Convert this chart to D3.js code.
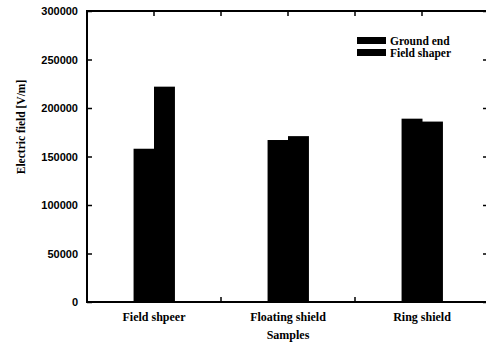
<!DOCTYPE html>
<html>
<head>
<meta charset="utf-8">
<script src="https://cdn.jsdelivr.net/npm/d3@7"></script>
<style>
  body { margin: 0; background: #fff; }
  svg { display: block; }
  .tick-label { font-family: "Liberation Sans", Arial, sans-serif; font-weight: bold; font-size: 11px; }
  .serif { font-family: "Liberation Serif", "Times New Roman", serif; font-weight: bold; }
</style>
</head>
<body>
<script>
// chart data
var categories = ['Field shpeer', 'Floating shield', 'Ring shield'];
var seriesNames = ['Ground end', 'Field shaper'];
var groundEnd = [158000, 167000, 189000];
var fieldShaper = [222000, 171000, 186000];
var yTicks = [0, 50000, 100000, 150000, 200000, 250000, 300000];

var W = 486, H = 345;
var margin = {left: 87, top: 11, right: 489, bottom: 302}; // plot edges in px

var svg = d3.select('body').append('svg')
    .attr('width', W)
    .attr('height', H);

// scales
var x = d3.scaleBand()
    .domain(categories)
    .range([margin.left, margin.right])
    .paddingInner(0.695)
    .paddingOuter(0.3475);

var xSub = d3.scaleBand()
    .domain(seriesNames)
    .range([0, x.bandwidth()]);

var y = d3.scaleLinear()
    .domain([0, 300000])
    .range([margin.bottom, margin.top]);

var values = [groundEnd, fieldShaper];

// bars
var g = svg.append('g').attr('class', 'bars');
categories.forEach(function (c, i) {
    seriesNames.forEach(function (s, j) {
        g.append('rect')
            .attr('x', x(c) + xSub(s))
            .attr('y', y(values[j][i]))
            .attr('width', xSub.bandwidth() + 0.5)
            .attr('height', y(0) - y(values[j][i]))
            .attr('fill', '#000');
    });
});

// tick positions on x: category centres plus midpoints between them
var step = x.step();
var xTickPos = [];
categories.forEach(function (c) {
    xTickPos.push(x(c) + x.bandwidth() / 2);
});
var xMinor = [];
for (var i = 0; i < categories.length - 1; i++) {
    xMinor.push(x(categories[i]) + x.bandwidth() / 2 + step / 2);
}

// left axis with inward ticks
var leftAxis = svg.append('g')
    .attr('transform', 'translate(' + margin.left + ',0)')
    .call(d3.axisLeft(y).tickValues(yTicks).tickSize(-5).tickPadding(9).tickFormat(d3.format('d')));
leftAxis.select('.domain').remove();
leftAxis.selectAll('line').attr('stroke', '#000').attr('stroke-width', 1.5);
leftAxis.selectAll('text').attr('class', 'tick-label').attr('fill', '#000');

// right axis (mostly off canvas)
var rightAxis = svg.append('g')
    .attr('transform', 'translate(' + margin.right + ',0)')
    .call(d3.axisRight(y).tickValues(yTicks).tickSize(-6).tickFormat(''));
rightAxis.select('.domain').remove();
rightAxis.selectAll('line').attr('stroke', '#000').attr('stroke-width', 1.5);

// bottom axis: labels at categories, inward ticks at midpoints
var bottom = svg.append('g')
    .attr('transform', 'translate(0,' + margin.bottom + ')');
bottom.selectAll('line.minor')
    .data(xMinor)
    .enter().append('line')
    .attr('x1', function (d) { return d; })
    .attr('x2', function (d) { return d; })
    .attr('y1', 0).attr('y2', -5)
    .attr('stroke', '#000').attr('stroke-width', 1.5);
bottom.selectAll('text')
    .data(categories)
    .enter().append('text')
    .attr('class', 'serif')
    .attr('x', function (d) { return x(d) + x.bandwidth() / 2; })
    .attr('y', 19)
    .attr('text-anchor', 'middle')
    .attr('font-size', '12px')
    .text(function (d) { return d; });

// top ticks pointing down
svg.append('g').selectAll('line')
    .data(xTickPos.concat(xMinor))
    .enter().append('line')
    .attr('x1', function (d) { return d; })
    .attr('x2', function (d) { return d; })
    .attr('y1', margin.top).attr('y2', margin.top + 5)
    .attr('stroke', '#000').attr('stroke-width', 1.5);

// frame
svg.append('rect')
    .attr('x', margin.left)
    .attr('y', margin.top)
    .attr('width', margin.right - margin.left)
    .attr('height', margin.bottom - margin.top)
    .attr('fill', 'none')
    .attr('stroke', '#000')
    .attr('stroke-width', 2);

// axis titles
svg.append('text')
    .attr('class', 'serif')
    .attr('x', (margin.left + margin.right) / 2)
    .attr('y', 339)
    .attr('text-anchor', 'middle')
    .attr('font-size', '12px')
    .text('Samples');

svg.append('text')
    .attr('class', 'serif')
    .attr('transform', 'translate(25,127) rotate(-90)')
    .attr('text-anchor', 'middle')
    .attr('font-size', '11.5px')
    .text('Electric field [V/m]');

// legend
var legend = svg.append('g').attr('transform', 'translate(357,37)');
seriesNames.forEach(function (s, i) {
    legend.append('rect')
        .attr('x', 0)
        .attr('y', i * 12)
        .attr('width', 29)
        .attr('height', 7)
        .attr('fill', '#000');
    legend.append('text')
        .attr('class', 'serif')
        .attr('x', 33)
        .attr('y', i * 12 + 7.5)
        .attr('font-size', '11.5px')
        .text(s);
});
</script>
</body>
</html>
